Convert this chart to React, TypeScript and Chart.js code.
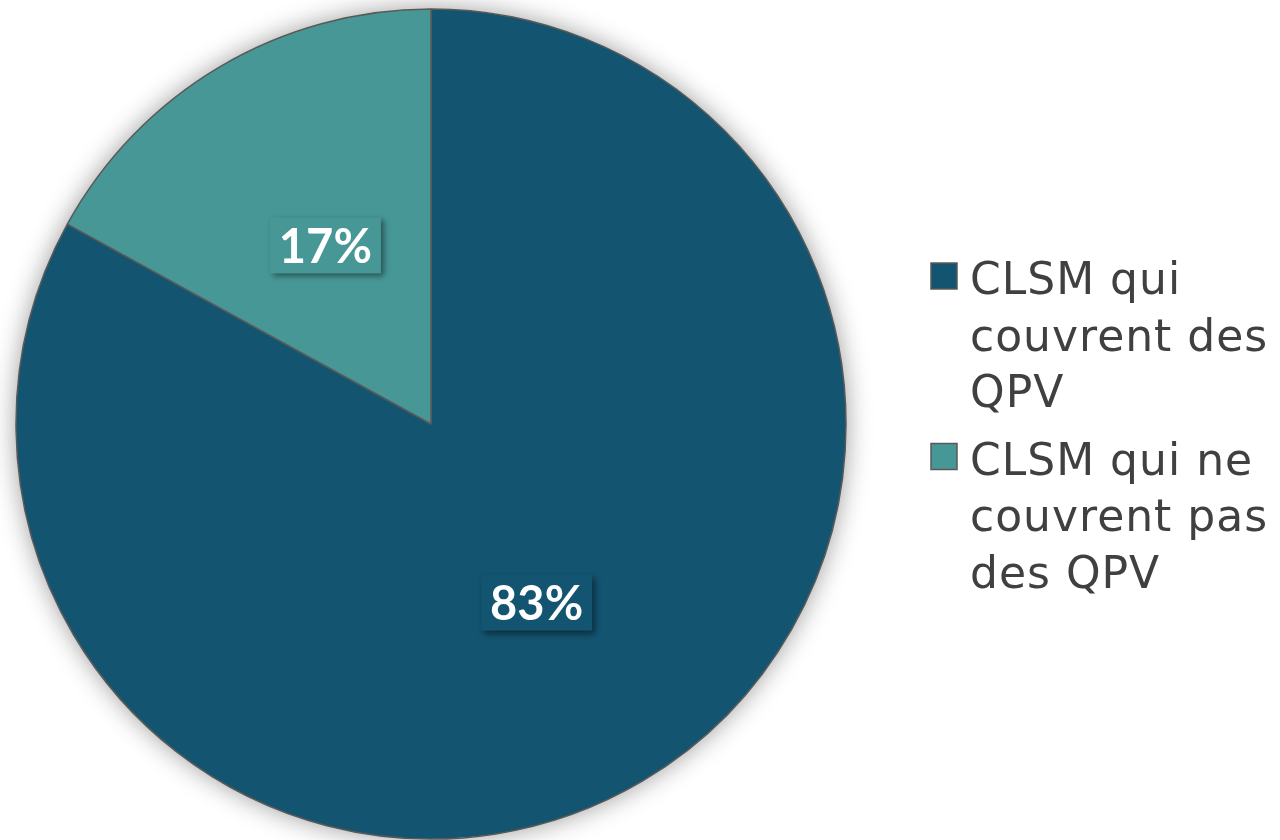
import React, { useEffect, useRef } from "react";
import { Chart, registerables } from "chart.js";

Chart.register(...registerables);

const categories: string[][] = [
  ["CLSM qui", "couvrent des", "QPV"],
  ["CLSM qui ne", "couvrent pas", "des QPV"],
];
const values: number[] = [83, 17];
const colors: string[] = ["#135470", "#489797"];

const LABEL_FONT = "bold 47px Lato, 'DejaVu Sans', sans-serif";
const LEGEND_FONT = "44px 'DejaVu Sans', sans-serif";

const shadowPlugin = {
  id: "pieShadow",
  beforeDatasetsDraw(chart: any) {
    const meta = chart.getDatasetMeta(0);
    const arc = meta.data[0];
    if (!arc) return;
    const { x, y, outerRadius } = arc.getProps(["x", "y", "outerRadius"], true);
    const ctx = chart.ctx;
    ctx.save();
    ctx.shadowColor = "rgba(0,0,0,0.4)";
    ctx.shadowBlur = 26;
    ctx.shadowOffsetX = 0;
    ctx.shadowOffsetY = 0;
    ctx.fillStyle = "#ffffff";
    ctx.beginPath();
    ctx.arc(x, y, outerRadius, 0, Math.PI * 2);
    ctx.fill();
    ctx.restore();
  },
};

const labelPlugin = {
  id: "pctLabels",
  afterDatasetsDraw(chart: any) {
    const ctx = chart.ctx;
    const meta = chart.getDatasetMeta(0);
    const data = chart.data.datasets[0].data as number[];
    const total = data.reduce((a, b) => a + b, 0);
    meta.data.forEach((arc: any, i: number) => {
      const p = arc.getCenterPoint();
      const txt = Math.round((data[i] / total) * 100) + "%";
      ctx.save();
      ctx.font = LABEL_FONT;
      const w = ctx.measureText(txt).width + 18;
      const h = 56;
      ctx.shadowColor = "rgba(0,0,0,0.45)";
      ctx.shadowBlur = 6;
      ctx.shadowOffsetX = 3;
      ctx.shadowOffsetY = 3;
      ctx.fillStyle = colors[i];
      ctx.fillRect(p.x - w / 2, p.y - h / 2, w, h);
      ctx.restore();
      ctx.save();
      ctx.font = LABEL_FONT;
      ctx.fillStyle = "#ffffff";
      ctx.textAlign = "center";
      ctx.textBaseline = "middle";
      ctx.fillText(txt, p.x, p.y + 2);
      ctx.restore();
    });
  },
};

const legendPlugin = {
  id: "customLegend",
  afterDraw(chart: any) {
    const ctx = chart.ctx;
    const labels = chart.data.labels as string[][];
    const x0 = 931;
    const textX = 970;
    const lineH = 56.5;
    const itemGap = 11;
    let baseline = 294;
    labels.forEach((lines, i) => {
      ctx.save();
      ctx.fillStyle = colors[i];
      ctx.fillRect(x0, baseline - 31, 26, 26);
      ctx.strokeStyle = "#595959";
      ctx.lineWidth = 1.5;
      ctx.strokeRect(x0, baseline - 31, 26, 26);
      ctx.font = LEGEND_FONT;
      (ctx as any).letterSpacing = "1px";
      ctx.fillStyle = "#404040";
      ctx.textAlign = "left";
      ctx.textBaseline = "alphabetic";
      lines.forEach((ln, j) => {
        ctx.fillText(ln, textX, baseline + j * lineH);
      });
      ctx.restore();
      baseline += lines.length * lineH + itemGap;
    });
  },
};

export default function App() {
  const ref = useRef<HTMLCanvasElement>(null);
  useEffect(() => {
    document.body.style.margin = "0";
    const chart = new Chart(ref.current!, {
      type: "pie",
      data: {
        labels: categories,
        datasets: [
          {
            data: values,
            backgroundColor: colors,
            borderColor: "#595959",
            borderWidth: 1.5,
          },
        ],
      },
      options: {
        animation: false,
        responsive: false,
        radius: 415,
        layout: { padding: { left: 16, right: 434, top: 9, bottom: 1 } },
        plugins: {
          legend: { display: false },
          tooltip: { enabled: false },
        },
      },
      plugins: [shadowPlugin, labelPlugin, legendPlugin],
    } as any);
    return () => chart.destroy();
  }, []);
  return (
    <div style={{ position: "absolute", left: 0, top: 0, width: 1280, height: 840 }}>
      <canvas ref={ref} width={1280} height={840} style={{ width: 1280, height: 840 }} />
    </div>
  );
}
